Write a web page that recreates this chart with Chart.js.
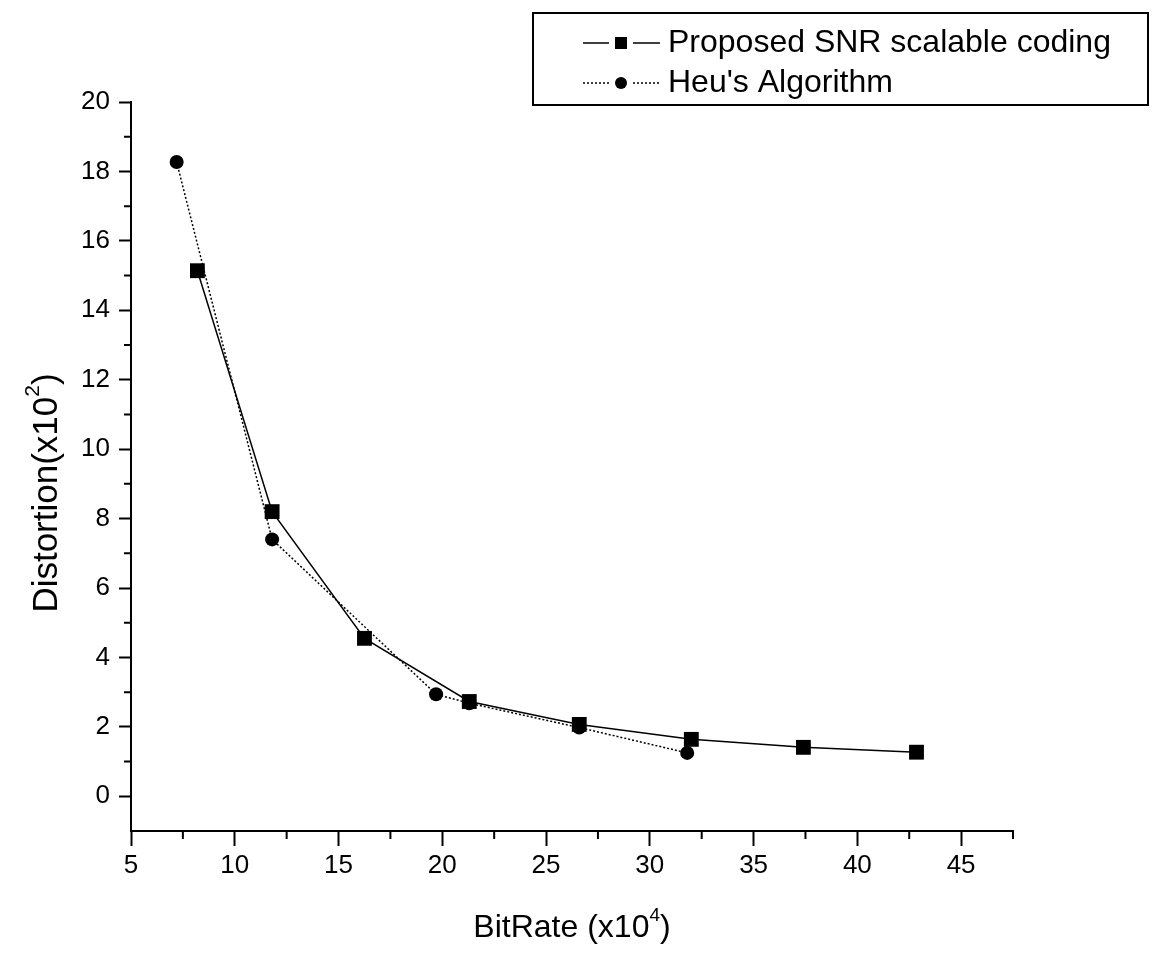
<!DOCTYPE html>
<html>
<head>
<meta charset="utf-8">
<script src="https://cdn.jsdelivr.net/npm/chart.js@4.4.1/dist/chart.umd.min.js"></script>
<style>
  html, body { margin: 0; background: #fff; }
  #wrap { width: 1160px; height: 955px; }
</style>
</head>
<body>
<div id="wrap"><canvas id="chart"></canvas></div>
<script>
// values (bitrate x10^4, distortion x10^2)
const proposedRate = [8.2, 11.8, 16.25, 21.3, 26.6, 32.0, 37.4, 42.85];
const proposedDist = [15.14, 8.2, 4.55, 2.73, 2.07, 1.64, 1.41, 1.27];
const heuRate = [7.2, 11.8, 19.7, 21.3, 26.6, 31.8];
const heuDist = [18.27, 7.4, 2.94, 2.68, 1.98, 1.25];

const xTicks = [5, 10, 15, 20, 25, 30, 35, 40, 45];
const xMinor = [7.5, 12.5, 17.5, 22.5, 27.5, 32.5, 37.5, 42.5, 47.5];
const yTicks = [0, 2, 4, 6, 8, 10, 12, 14, 16, 18, 20];
const yMinor = [1, 3, 5, 7, 9, 11, 13, 15, 17, 19];

const FONT = '"Liberation Sans", Arial, sans-serif';

function pts(xs, ys) {
  return xs.map((x, i) => ({ x: x, y: ys[i] }));
}

// text with a superscript part, e.g. x10^4
function supText(ctx, parts, size) {
  // parts: [base, sup, tail]
  ctx.font = size + 'px ' + FONT;
  const w1 = ctx.measureText(parts[0]).width;
  const w3 = ctx.measureText(parts[2]).width;
  ctx.font = Math.round(size * 0.6) + 'px ' + FONT;
  const w2 = ctx.measureText(parts[1]).width;
  const total = w1 + w2 + w3;
  let x = -total / 2;
  ctx.textBaseline = 'middle';
  ctx.textAlign = 'left';
  ctx.font = size + 'px ' + FONT;
  ctx.fillText(parts[0], x, 0);
  x += w1;
  ctx.font = Math.round(size * 0.6) + 'px ' + FONT;
  ctx.fillText(parts[1], x, -size * 0.38);
  x += w2;
  ctx.font = size + 'px ' + FONT;
  ctx.fillText(parts[2], x, 0);
}

const extras = {
  id: 'extras',
  afterDraw(chart) {
    const ctx = chart.ctx;
    const xs = chart.scales.x, ys = chart.scales.y;
    const a = chart.chartArea;
    ctx.save();
    ctx.strokeStyle = '#000';
    ctx.fillStyle = '#000';
    ctx.lineWidth = 2;
    // minor ticks
    ctx.beginPath();
    xMinor.forEach(v => {
      const px = xs.getPixelForValue(v);
      ctx.moveTo(px, a.bottom);
      ctx.lineTo(px, a.bottom + 8);
    });
    yMinor.forEach(v => {
      const py = ys.getPixelForValue(v);
      ctx.moveTo(a.left, py);
      ctx.lineTo(a.left - 7, py);
    });
    ctx.stroke();

    // axis titles
    ctx.save();
    ctx.translate((a.left + a.right) / 2, 928);
    supText(ctx, ['BitRate (x10', '4', ')'], 32);
    ctx.restore();
    ctx.save();
    ctx.translate(47, 493);
    ctx.rotate(-Math.PI / 2);
    supText(ctx, ['Distortion(x10', '2', ')'], 35);
    ctx.restore();

    // legend box
    ctx.lineWidth = 2;
    ctx.strokeRect(533, 13, 615, 92);
    const rows = [
      { y: 43, text: 'Proposed SNR scalable coding', dash: [], square: true },
      { y: 83, text: "Heu's Algorithm", dash: [2, 2], square: false }
    ];
    rows.forEach(r => {
      ctx.lineWidth = 1.5;
      ctx.setLineDash(r.dash);
      ctx.beginPath();
      ctx.moveTo(583, r.y);
      ctx.lineTo(609, r.y);
      ctx.moveTo(633, r.y);
      ctx.lineTo(660, r.y);
      ctx.stroke();
      ctx.setLineDash([]);
      ctx.beginPath();
      if (r.square) {
        ctx.rect(615, r.y - 6, 12, 12);
      } else {
        ctx.arc(621, r.y, 6, 0, Math.PI * 2);
      }
      ctx.fill();
      ctx.font = '32px ' + FONT;
      ctx.textAlign = 'left';
      ctx.textBaseline = 'middle';
      ctx.fillText(r.text, 668, r.y);
    });
    ctx.restore();
  }
};

new Chart(document.getElementById('chart'), {
  type: 'scatter',
  data: {
    datasets: [{
      label: 'Proposed SNR scalable coding',
      data: pts(proposedRate, proposedDist),
      showLine: true,
      borderColor: '#000',
      backgroundColor: '#000',
      borderWidth: 1.5,
      pointStyle: 'rect',
      pointRadius: 10.5,
      pointBorderWidth: 0
    }, {
      label: "Heu's Algorithm",
      data: pts(heuRate, heuDist),
      showLine: true,
      borderColor: '#000',
      backgroundColor: '#000',
      borderWidth: 1.5,
      borderDash: [2, 2],
      pointStyle: 'circle',
      pointRadius: 7,
      pointBorderWidth: 0
    }]
  },
  options: {
    responsive: true,
    maintainAspectRatio: false,
    animation: false,
    devicePixelRatio: 1,
    layout: { padding: { left: 0, top: 102, right: 147, bottom: 0 } },
    plugins: { legend: { display: false }, tooltip: { enabled: false } },
    scales: {
      x: {
        type: 'linear',
        min: 5,
        max: 47.5,
        afterBuildTicks: s => { s.ticks = xTicks.map(v => ({ value: v })); },
        afterFit: s => { s.height = 124; },
        grid: { drawOnChartArea: false, tickLength: 15, tickColor: '#000', tickWidth: 2 },
        border: { color: '#000', width: 2 },
        ticks: { color: '#000', padding: 4, maxRotation: 0, font: { family: FONT, size: 26 } }
      },
      y: {
        type: 'linear',
        min: -1,
        max: 20,
        afterBuildTicks: s => { s.ticks = yTicks.map(v => ({ value: v })); },
        afterFit: s => { s.width = 131; },
        grid: { drawOnChartArea: false, tickLength: 12, tickColor: '#000', tickWidth: 2 },
        border: { color: '#000', width: 2 },
        ticks: { color: '#000', padding: 9, font: { family: FONT, size: 26 } }
      }
    }
  },
  plugins: [extras]
});
</script>
</body>
</html>
